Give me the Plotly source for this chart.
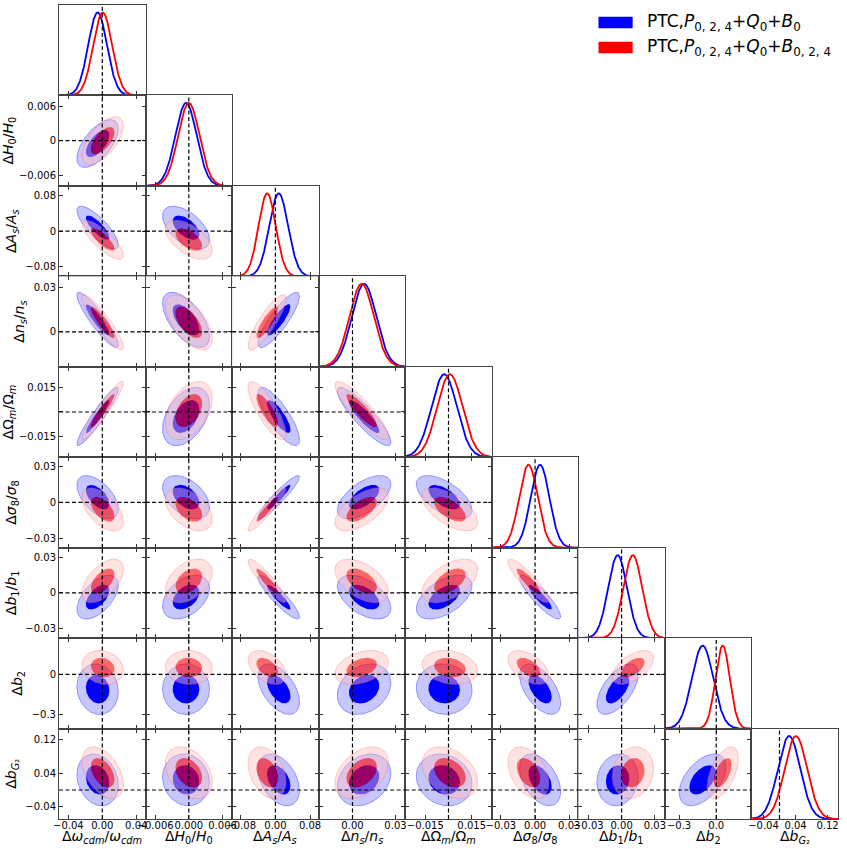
import numpy as np
import plotly.graph_objects as go
from plotly.subplots import make_subplots

# parameters (fractional shifts), order of the corner plot
params = ['w_cdm', 'H0', 'As', 'ns', 'Om', 'sig8', 'b1', 'b2', 'bG2']
labels = ['Δ<i>ω</i><sub><i>cdm</i></sub>/<i>ω</i><sub><i>cdm</i></sub>',
          'Δ<i>H</i><sub>0</sub>/<i>H</i><sub>0</sub>',
          'Δ<i>A</i><sub><i>s</i></sub>/<i>A</i><sub><i>s</i></sub>',
          'Δ<i>n</i><sub><i>s</i></sub>/<i>n</i><sub><i>s</i></sub>',
          'ΔΩ<sub><i>m</i></sub>/Ω<sub><i>m</i></sub>',
          'Δ<i>σ</i><sub>8</sub>/<i>σ</i><sub>8</sub>',
          'Δ<i>b</i><sub>1</sub>/<i>b</i><sub>1</sub>',
          'Δ<i>b</i><sub>2</sub>',
          'Δ<i>b</i><sub><i>G</i>₂</sub>']

# PTC,P_{0,2,4}+Q_0+B_0  (blue)
mean_blue = [-0.0055, -0.0005, 0.0077, 0.0081, -0.0028, 0.0044, -0.0036, -0.11, 0.024]
sig_blue = [0.0111, 0.0019, 0.0218, 0.0085, 0.0082, 0.0082, 0.0085, 0.086, 0.028]
# PTC,P_{0,2,4}+Q_0+B_{0,2,4}  (red)
mean_red = [0.0005, 0.0, -0.019, 0.0064, 0.0009, -0.0058, 0.0101, 0.052, 0.041]
sig_red = [0.0111, 0.0019, 0.020, 0.0085, 0.0082, 0.0082, 0.0085, 0.058, 0.028]

# correlation coefficients, lower triangle (row i, columns 0..i-1)
rho_blue = [[],
            [0.62],
            [-0.8, -0.55],
            [-0.9, -0.6, 0.85],
            [0.94, 0.42, -0.8, -0.88],
            [-0.55, -0.45, 0.93, 0.6, -0.6],
            [0.55, 0.4, -0.9, -0.5, 0.52, -0.88],
            [-0.1, 0.0, -0.5, 0.25, -0.05, -0.55, 0.6],
            [-0.2, -0.1, -0.4, 0.25, -0.15, -0.45, 0.1, 0.5]]
rho_red = [[],
           [0.62],
           [-0.8, -0.55],
           [-0.9, -0.6, 0.85],
           [0.94, 0.42, -0.8, -0.88],
           [-0.55, -0.45, 0.93, 0.6, -0.6],
           [0.55, 0.4, -0.9, -0.5, 0.52, -0.88],
           [-0.15, -0.05, -0.45, 0.35, -0.2, -0.5, 0.55],
           [-0.45, -0.35, -0.35, 0.4, -0.35, -0.4, 0.15, 0.55]]

# contour levels (in units of sigma) for the two filled regions
k_inner, k_outer = 1.25, 2.2

# axis ranges and ticks
xrange_ = [[-0.051, 0.051], [-0.0077, 0.0077], [-0.1, 0.1], [-0.0236, 0.0368],
           [-0.028, 0.028], [-0.038, 0.038], [-0.039, 0.039], [-0.414, 0.284], [-0.07, 0.146]]
yrange_ = [None, [-0.0079, 0.0079], [-0.101, 0.101], [-0.0236, 0.0376],
           [-0.028, 0.028], [-0.0377, 0.0377], [-0.0385, 0.0385], [-0.405, 0.272], [-0.069, 0.146]]
xtick_vals = [[-0.04, 0, 0.04], [-0.006, 0, 0.006], [-0.08, 0, 0.08], [0, 0.03],
              [-0.015, 0, 0.015], [-0.03, 0, 0.03], [-0.03, 0, 0.03], [-0.3, 0], [-0.04, 0.04, 0.12]]
xtick_text = [['−0.04', '0.00', '0.04'], ['−0.006', '0.000', '0.006'], ['−0.08', '0.00', '0.08'],
              ['0.00', '0.03'], ['−0.015', '', '0.015'], ['−0.03', '0.00', '0.03'],
              ['−0.03', '0.00', '0.03'], ['−0.3', '0.0'], ['−0.04', '0.04', '0.12']]
ytick_vals = [None, [-0.006, 0, 0.006], [-0.08, 0, 0.08], [0, 0.03], [-0.015, 0, 0.015],
              [-0.03, 0, 0.03], [-0.03, 0, 0.03], [-0.3, 0], [-0.04, 0.04, 0.12]]
ytick_text = [None, ['−0.006', '0', '0.006'], ['−0.08', '0', '0.08'], ['0', '0.03'],
              ['−0.015', '', '0.015'], ['−0.03', '0', '0.03'], ['−0.03', '0', '0.03'],
              ['−0.3', '0'], ['−0.04', '0.04', '0.12']]

legend_names = ['PTC,<i>P</i><sub>0, 2, 4</sub>+<i>Q</i><sub>0</sub>+<i>B</i><sub>0</sub>',
                'PTC,<i>P</i><sub>0, 2, 4</sub>+<i>Q</i><sub>0</sub>+<i>B</i><sub>0, 2, 4</sub>']

sets = [
    dict(mean=mean_blue, sig=sig_blue, rho=rho_blue, line='#0000ff',
         outer='rgba(0,0,255,0.22)', edge='rgba(0,0,255,0.45)', inner='rgb(0,0,255)'),
    dict(mean=mean_red, sig=sig_red, rho=rho_red, line='#ff0000',
         outer='rgba(255,190,190,0.45)', edge='rgba(255,60,60,0.3)', inner='rgba(255,0,0,0.6)'),
]

N = len(params)
specs = [[{} if j <= i else None for j in range(N)] for i in range(N)]
fig = make_subplots(rows=N, cols=N, specs=specs, horizontal_spacing=0, vertical_spacing=0)


def ellipse(mx, my, sx, sy, rho, k, n=120):
    cov = np.array([[sx ** 2, rho * sx * sy], [rho * sx * sy, sy ** 2]])
    L = np.linalg.cholesky(cov)
    t = np.linspace(0, 2 * np.pi, n)
    pts = k * (L @ np.vstack([np.cos(t), np.sin(t)]))
    return mx + pts[0], my + pts[1]


for s in sets:
    for i in range(N):
        for j in range(i + 1):
            if i == j:
                # 1D marginal
                x = np.linspace(xrange_[j][0], xrange_[j][1], 300)
                y = np.exp(-0.5 * ((x - s['mean'][j]) / s['sig'][j]) ** 2)
                fig.add_trace(go.Scatter(x=x, y=y, mode='lines', line=dict(color=s['line'], width=1.8),
                                         showlegend=False, hoverinfo='skip'), row=i + 1, col=j + 1)
                continue
            mx, my = s['mean'][j], s['mean'][i]
            sx, sy = s['sig'][j], s['sig'][i]
            r = s['rho'][i][j]
            ox, oy = ellipse(mx, my, sx, sy, r, k_outer)
            ix, iy = ellipse(mx, my, sx, sy, r, k_inner)
            # outer ring
            fig.add_trace(go.Scatter(x=np.concatenate([ox, ix[::-1], ox[:1]]),
                                     y=np.concatenate([oy, iy[::-1], oy[:1]]),
                                     mode='lines', fill='toself', fillcolor=s['outer'],
                                     line=dict(width=0), showlegend=False, hoverinfo='skip'),
                          row=i + 1, col=j + 1)
            fig.add_trace(go.Scatter(x=ox, y=oy, mode='lines', line=dict(color=s['edge'], width=0.8),
                                     showlegend=False, hoverinfo='skip'), row=i + 1, col=j + 1)
            # inner region
            fig.add_trace(go.Scatter(x=ix, y=iy, mode='lines', fill='toself', fillcolor=s['inner'],
                                     line=dict(width=0), showlegend=False, hoverinfo='skip'),
                          row=i + 1, col=j + 1)

# page geometry (pixels)
L, T, W, H = 55, 5, 788, 814


def px(xp):
    return (xp - L) / W


def py(yp):
    return 1 - (yp - T) / H


tickfont = dict(family='DejaVu Sans', size=10, color='black')
titlefont = dict(family='DejaVu Sans', size=14, color='black')
for i in range(N):
    for j in range(i + 1):
        bottom = i == N - 1
        fig.update_xaxes(range=xrange_[j], tickvals=xtick_vals[j], ticktext=xtick_text[j],
                         showticklabels=bottom, ticks='inside', ticklen=4, tickcolor='#333',
                         tickangle=0, ticklabelstandoff=-3, showline=True, linecolor='#444', linewidth=1,
                         mirror=True if i == j else 'ticks', showgrid=False, zeroline=False,
                         tickfont=tickfont, row=i + 1, col=j + 1)
        if i == j:
            fig.update_yaxes(range=[0, 1.09], showticklabels=False, ticks='', showline=True,
                             linecolor='#444', linewidth=1, mirror=True, showgrid=False,
                             zeroline=False, row=i + 1, col=j + 1)
        else:
            fig.update_yaxes(range=yrange_[i], tickvals=ytick_vals[i], ticktext=ytick_text[i],
                             showticklabels=(j == 0), ticks='inside', ticklen=4, tickcolor='#333',
                             tickangle=0, showline=True, linecolor='#444', linewidth=1, mirror='ticks',
                             showgrid=False, zeroline=False, tickfont=tickfont,
                             title_text=labels[i] if j == 0 else None, title_font=titlefont,
                             title_standoff=5, row=i + 1, col=j + 1)
        # fiducial lines
        fig.add_vline(x=0, line=dict(color='black', width=1.2, dash='4px,2.5px'), row=i + 1, col=j + 1)
        if i != j:
            fig.add_hline(y=0, line=dict(color='black', width=1.2, dash='4px,2.5px'), row=i + 1, col=j + 1)

# x axis titles under the bottom row
for j in range(N):
    fig.add_annotation(xref='paper', yref='paper', x=px(L + (j + 0.5) * W / N), y=py(837),
                       text=labels[j], showarrow=False, xanchor='center', yanchor='middle',
                       font=titlefont)

# legend (drawn as boxes + labels, top right)
for k, col in enumerate(['#0000ff', '#ff0000']):
    y0 = 17 + 25 * k
    fig.add_shape(type='rect', xref='paper', yref='paper', x0=px(601), x1=px(635), y0=py(y0 + 11), y1=py(y0),
                  fillcolor=col, line=dict(color=col, width=0.5))
    fig.add_annotation(xref='paper', yref='paper', x=px(648), y=py(y0 + 5.5), text=legend_names[k],
                       showarrow=False, xanchor='left', yanchor='middle',
                       font=dict(family='DejaVu Sans', size=17, color='black'))

fig.update_layout(width=847, height=849, margin=dict(l=L, r=847 - L - W, t=T, b=849 - T - H),
                  paper_bgcolor='white', plot_bgcolor='white', showlegend=False)

fig.write_html("out.html", config={'displayModeBar': False},
               post_script="document.body.style.margin='0px';")
